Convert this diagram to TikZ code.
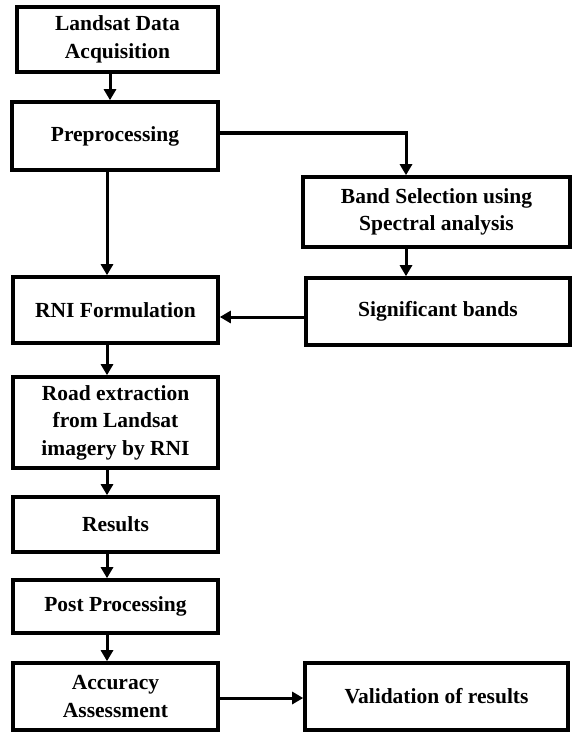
\documentclass[tikz,border=0pt]{standalone}
\usepackage{fontspec}
\setmainfont{Liberation Serif}
\usetikzlibrary{arrows.meta}
\begin{document}
\begin{tikzpicture}[x=1pt,y=-1pt,
  box/.style={draw=black,line width=3.6pt,fill=white,align=center,inner sep=0pt,
    font=\fontsize{21.5}{27.5}\selectfont\bfseries},
  arr/.style={line width=3pt,-{Triangle[length=11pt,width=12pt]}}]
\useasboundingbox (0,0) rectangle (571,733);
\node[box,minimum width=201pt,minimum height=65pt] (b1) at (117.5,39.5) {Landsat Data\\Acquisition};
\node[box,minimum width=206pt,minimum height=68pt] (b2) at (115,136) {Preprocessing};
\node[box,minimum width=267pt,minimum height=70pt] (b3) at (436.5,212) {Band Selection using\\Spectral analysis};
\node[box,minimum width=264pt,minimum height=67pt] (b4) at (438,311.5) {Significant bands};
\node[box,minimum width=205pt,minimum height=66pt] (b5) at (115.5,310) {RNI Formulation};
\node[box,minimum width=205pt,minimum height=91pt] (b6) at (115.5,422.5) {Road extraction\\from Landsat\\imagery by RNI};
\node[box,minimum width=205pt,minimum height=55pt] (b7) at (115.5,524.5) {Results};
\node[box,minimum width=205pt,minimum height=53pt] (b8) at (115.5,606.5) {Post Processing};
\node[box,minimum width=205pt,minimum height=67pt] (b9) at (115.5,696.5) {Accuracy\\Assessment};
\node[box,minimum width=263pt,minimum height=67pt] (b10) at (436.5,696.5) {Validation of results};
\coordinate (ax1) at (110,0);
\coordinate (ax) at (107,0);
\coordinate (vx) at (406,0);
\coordinate (hl) at (0,133);
\coordinate (hy) at (0,317);
\coordinate (hv) at (0,698);
\draw[arr] (b1.south -| ax1) -- (b2.north -| ax1);
\draw[arr] (b2.south -| ax) -- (b5.north -| ax);
\draw[arr] (b5.south -| ax) -- (b6.north -| ax);
\draw[arr] (b6.south -| ax) -- (b7.north -| ax);
\draw[arr] (b7.south -| ax) -- (b8.north -| ax);
\draw[arr] (b8.south -| ax) -- (b9.north -| ax);
\draw[arr] (b2.east |- hl) -| (b3.north -| vx);
\draw[arr] (b3.south -| vx) -- (b4.north -| vx);
\draw[arr] (b4.west |- hy) -- (b5.east |- hy);
\draw[arr] (b9.east |- hv) -- (b10.west |- hv);
\end{tikzpicture}
\end{document}
